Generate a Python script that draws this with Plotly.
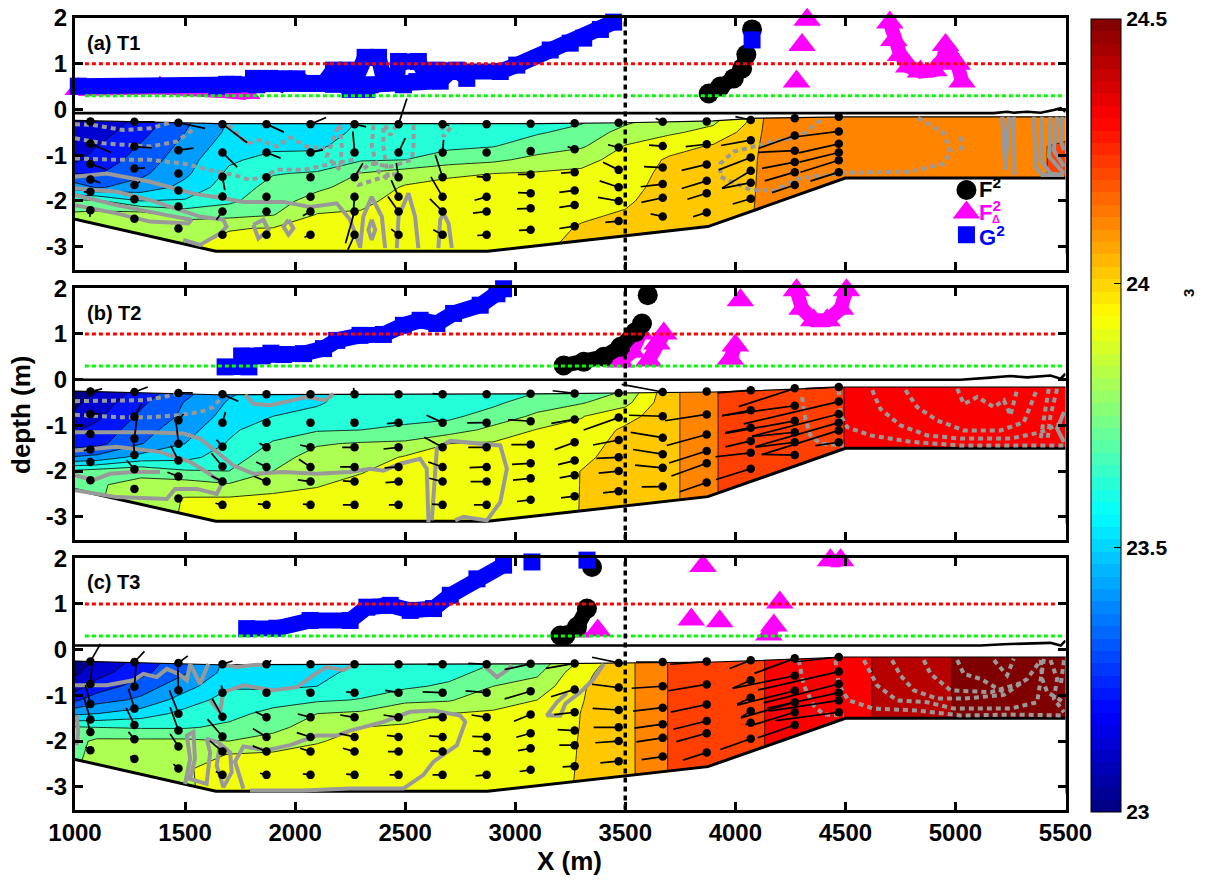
import numpy as np
import plotly.graph_objects as go

# ---------- axis ticks ----------
x_ticks = [1000, 1500, 2000, 2500, 3000, 3500, 4000, 4500, 5000, 5500]
y_ticks = [-3, -2, -1, 0, 1, 2]
y_tick_text = ["-3", "-2", "-1", "0", "1", "2"]
cbar_ticks = [23, 23.5, 24, 24.5]

# ---------- section geometry ----------
bathy_x = [1000, 1640, 2875, 3875, 4500, 5500]
bathy_y = [-2.4, -3.1, -3.1, -2.56, -1.5, -1.5]
surf_x = [1000, 1650, 3100, 3500, 3900, 4100, 4500, 5500]
surf_y_a = [-0.24, -0.31, -0.31, -0.29, -0.25, -0.19, -0.16, -0.16]
surf_y_b = [-0.25, -0.33, -0.31, -0.29, -0.27, -0.24, -0.16, -0.16]
surf_y_c = [-0.25, -0.33, -0.31, -0.29, -0.27, -0.24, -0.16, -0.16]

eta_x_a = [1000, 5174, 5235, 5265, 5326, 5387, 5447, 5478, 5500]
eta_y_a = [-0.08, -0.08, -0.05, -0.07, -0.05, -0.07, -0.01, 0.03, -0.05]
eta_x_b = [1000, 5023, 5144, 5250, 5326, 5432, 5478, 5500]
eta_y_b = [0, 0, 0.04, 0.08, 0.05, 0.09, 0.02, 0.13]
eta_x_c = [1000, 5114, 5220, 5326, 5432, 5478, 5500]
eta_y_c = [0.09, 0.09, 0.12, 0.13, 0.15, 0.09, 0.2]

# ---------- density field (columns at grid_x, rows at grid_y) ----------
grid_y = [-0.15, -0.5, -0.8, -1.1, -1.4, -1.7, -2.0, -2.3, -2.6, -3.15]
grid_x = [1000, 1100, 1300, 1500, 1700, 1900, 2100, 2300, 2500, 2700, 2900, 3100,
          3300, 3500, 3700, 3900, 4050, 4150, 4300, 4500, 4700, 5000, 5500]

sigma_a = [
 [23.08,23.12,23.15,23.18,23.30,23.45,23.72,23.82,23.84,23.86],
 [23.10,23.15,23.20,23.24,23.29,23.39,23.72,23.83,23.85,23.87],
 [23.22,23.27,23.31,23.34,23.38,23.44,23.60,23.85,23.86,23.88],
 [23.37,23.40,23.43,23.46,23.48,23.53,23.61,23.77,23.85,23.905],
 [23.50,23.52,23.55,23.585,23.62,23.65,23.68,23.77,23.895,23.94],
 [23.52,23.54,23.58,23.63,23.695,23.73,23.76,23.795,23.905,23.94],
 [23.52,23.54,23.58,23.64,23.71,23.78,23.84,23.905,23.93,23.95],
 [23.60,23.63,23.66,23.69,23.805,23.84,23.88,23.91,23.93,23.95],
 [23.62,23.64,23.67,23.70,23.85,23.91,23.93,23.94,23.95,23.96],
 [23.62,23.65,23.68,23.75,23.89,23.92,23.93,23.94,23.95,23.96],
 [23.62,23.65,23.695,23.78,23.90,23.92,23.93,23.95,23.96,23.98],
 [23.64,23.69,23.75,23.83,23.91,23.93,23.94,23.96,23.96,23.98],
 [23.67,23.73,23.785,23.875,23.915,23.93,23.955,23.985,24.01,24.05],
 [23.75,23.84,23.905,23.93,23.95,23.965,23.985,24.01,24.03,24.06],
 [23.83,23.885,23.96,24.015,24.03,24.04,24.05,24.06,24.07,24.08],
 [23.86,23.93,24.01,24.03,24.04,24.05,24.06,24.07,24.08,24.09],
 [23.98,24.03,24.05,24.06,24.065,24.07,24.075,24.08,24.08,24.09],
 [24.13,24.13,24.135,24.14,24.14,24.14,24.14,24.14,24.14,24.14],
 [24.15,24.15,24.15,24.15,24.15,24.15,24.15,24.15,24.15,24.15],
 [24.15,24.15,24.15,24.15,24.15,24.15,24.15,24.15,24.15,24.15],
 [24.15,24.15,24.15,24.15,24.15,24.15,24.15,24.15,24.15,24.15],
 [24.15,24.15,24.15,24.15,24.15,24.15,24.15,24.15,24.15,24.15],
 [24.16,24.18,24.21,24.21,24.21,24.21,24.21,24.21,24.21,24.21],
]
sigma_b = [
 [23.05,23.08,23.12,23.19,23.25,23.41,23.72,23.76,23.77,23.78],
 [23.08,23.14,23.18,23.23,23.27,23.43,23.74,23.79,23.79,23.80],
 [23.22,23.28,23.32,23.36,23.395,23.54,23.77,23.83,23.85,23.86],
 [23.35,23.405,23.42,23.46,23.50,23.57,23.71,23.85,23.905,23.91],
 [23.47,23.51,23.54,23.58,23.61,23.65,23.70,23.81,23.91,23.93],
 [23.53,23.56,23.60,23.66,23.71,23.76,23.80,23.865,23.92,23.94],
 [23.58,23.59,23.625,23.69,23.79,23.84,23.865,23.895,23.92,23.94],
 [23.62,23.64,23.665,23.70,23.81,23.85,23.895,23.92,23.93,23.95],
 [23.63,23.65,23.67,23.72,23.82,23.91,23.93,23.94,23.95,23.96],
 [23.64,23.65,23.68,23.75,23.90,23.92,23.93,23.94,23.95,23.96],
 [23.65,23.68,23.74,23.83,23.91,23.93,23.94,23.95,23.96,23.97],
 [23.67,23.75,23.82,23.905,23.92,23.93,23.94,23.95,23.96,23.97],
 [23.72,23.79,23.895,23.925,23.95,23.975,24.002,24.002,24.002,24.002],
 [23.78,23.87,23.96,24.02,24.04,24.05,24.06,24.07,24.08,24.08],
 [24.07,24.07,24.07,24.07,24.07,24.07,24.07,24.07,24.07,24.07],
 [24.195,24.195,24.195,24.195,24.195,24.195,24.195,24.195,24.195,24.195],
 [24.23,24.23,24.23,24.23,24.23,24.23,24.23,24.23,24.23,24.23],
 [24.25,24.25,24.25,24.25,24.25,24.25,24.25,24.25,24.25,24.25],
 [24.27,24.27,24.27,24.27,24.27,24.27,24.27,24.27,24.27,24.27],
 [24.301,24.301,24.301,24.301,24.301,24.301,24.301,24.301,24.301,24.301],
 [24.35,24.35,24.35,24.35,24.35,24.35,24.35,24.35,24.35,24.35],
 [24.37,24.37,24.37,24.37,24.37,24.37,24.37,24.37,24.37,24.37],
 [24.39,24.39,24.39,24.39,24.39,24.39,24.39,24.39,24.39,24.39],
]
sigma_c = [
 [23.05,23.08,23.15,23.28,23.48,23.71,23.77,23.78,23.79,23.79],
 [23.10,23.16,23.24,23.36,23.50,23.70,23.82,23.83,23.84,23.85],
 [23.22,23.27,23.35,23.42,23.55,23.69,23.82,23.83,23.85,23.87],
 [23.36,23.39,23.46,23.55,23.63,23.69,23.82,23.85,23.895,23.89],
 [23.52,23.54,23.59,23.64,23.67,23.72,23.80,23.905,23.92,23.93],
 [23.52,23.55,23.58,23.66,23.73,23.77,23.84,23.915,23.93,23.94],
 [23.54,23.57,23.60,23.685,23.80,23.85,23.895,23.92,23.93,23.94],
 [23.58,23.63,23.66,23.705,23.82,23.90,23.92,23.93,23.94,23.95],
 [23.62,23.65,23.68,23.78,23.87,23.91,23.93,23.94,23.95,23.96],
 [23.62,23.66,23.72,23.79,23.90,23.92,23.93,23.94,23.95,23.96],
 [23.67,23.74,23.80,23.87,23.91,23.93,23.94,23.95,23.96,23.97],
 [23.72,23.78,23.84,23.90,23.92,23.94,23.95,23.96,23.97,23.98],
 [23.89,23.97,23.99,23.995,24.002,24.003,24.005,24.005,24.005,24.005],
 [24.07,24.07,24.07,24.07,24.07,24.07,24.07,24.07,24.07,24.07],
 [24.205,24.205,24.205,24.205,24.205,24.205,24.205,24.205,24.205,24.205],
 [24.25,24.25,24.25,24.25,24.25,24.25,24.25,24.25,24.25,24.25],
 [24.275,24.275,24.275,24.275,24.275,24.275,24.275,24.275,24.275,24.275],
 [24.305,24.305,24.305,24.305,24.305,24.305,24.305,24.305,24.305,24.305],
 [24.33,24.33,24.33,24.33,24.33,24.33,24.33,24.33,24.33,24.33],
 [24.37,24.37,24.37,24.37,24.37,24.37,24.37,24.37,24.37,24.37],
 [24.42,24.42,24.42,24.42,24.42,24.42,24.42,24.42,24.42,24.42],
 [24.505,24.505,24.505,24.505,24.505,24.505,24.505,24.505,24.505,24.505],
 [24.56,24.56,24.56,24.56,24.56,24.56,24.56,24.56,24.56,24.56],
]

# ---------- current meter stations ----------
station_x = [1070, 1270, 1470, 1670, 1870, 2070, 2270, 2470, 2670, 2870, 3070, 3270, 3470, 3670, 3870, 4070, 4270, 4470]
station_depth = [
 [-0.26,-0.75,-1.19,-1.53,-1.80,-2.20],
 [-0.27,-0.81,-1.29,-1.65,-1.96,-2.39],
 [-0.29,-0.89,-1.40,-1.77,-2.12,-2.60],
 [-0.32,-0.94,-1.47,-1.90,-2.23,-2.74],
 [-0.32,-0.94,-1.48,-1.91,-2.23,-2.74],
 [-0.32,-0.94,-1.48,-1.91,-2.23,-2.74],
 [-0.32,-0.94,-1.48,-1.91,-2.23,-2.74],
 [-0.32,-0.94,-1.48,-1.91,-2.23,-2.74],
 [-0.32,-0.94,-1.48,-1.91,-2.23,-2.74],
 [-0.32,-0.94,-1.48,-1.91,-2.23,-2.74],
 [-0.31,-0.91,-1.42,-1.83,-2.16,-2.63],
 [-0.30,-0.87,-1.37,-1.77,-2.09,-2.55],
 [-0.29,-0.83,-1.32,-1.70,-2.00,-2.44],
 [-0.27,-0.80,-1.27,-1.63,-1.93,-2.34],
 [-0.26,-0.76,-1.20,-1.56,-1.83,-2.25],
 [-0.23,-0.67,-1.05,-1.34,-1.60,-1.95],
 [-0.19,-0.57,-0.90,-1.15,-1.37,-1.65],
 [-0.16,-0.48,-0.75,-0.94,-1.11,-1.37],
]
U_SCALE = 1.515    # metres of plot per velocity unit
W_SCALE = 0.00729  # depth metres of plot per velocity unit

u_a = [[0,62,45,30,-20,-2],[60,52,32,17,-12,0],[80,45,10,0,-5,-5],[74,44,7,5,-18,-12],[52,42,0,0,-5,-12],
       [47,37,0,0,-23,-18],[35,-5,25,-5,-27,-20],[25,20,-7,-22,-32,-22],[20,3,-22,-35,-38,-28],[0,0,-30,-36,-41,-28],
       [0,0,-38,-38,-41,-35],[0,-21,-41,-46,-46,-46],[-3,-32,-47,-57,-62,-40],[-21,-41,-56,-66,-64,-36],[0,-63,-75,-75,-58,-41],
       [-46,-89,-96,-86,-86,-54],[0,-108,-110,-98,-90,-68],[0,-128,-120,-118,-115,-85]]
w_a = [[0,-26,-16,-10,0,-20],[0,-4,2,10,0,0],[-17,6,0,0,0,0],[-56,-44,-40,-5,-25,0],[-24,-17,0,0,0,0],
       [20,8,0,0,-13,-7],[-8,63,42,-60,-95,-45],[77,43,42,50,45,17],[-4,38,67,60,38,15],[0,0,2,-10,-5,-2],
       [0,0,0,2,-2,-2],[0,8,-3,-6,-7,-7],[0,8,23,19,11,-4],[11,3,3,-8,-14,8],[0,-7,-18,-23,-18,-13],
       [10,-16,-37,-52,-17,-16],[0,-38,-5,-19,-26,-23],[0,-16,-27,-29,-36,-27]]
u_b = [[35,30,-15,-20,0,0],[40,22,7,-3,-23,-5],[43,15,-7,-23,-33,0],[47,9,-18,-33,-33,-21],[0,0,-21,-31,-36,-26],
       [0,0,-31,-35,-38,-23],[-3,-10,-37,-43,-35,-35],[0,-35,-45,-42,-39,-29],[-30,-48,-55,-43,-40,-32],[-10,-58,-55,-51,-48,-38],
       [0,-68,-58,-56,-53,-41],[-66,-70,-60,-50,-45,-41],[0,-105,-77,-67,-60,-47],[-123,-101,-96,-89,-83,-63],[0,-125,-120,-113,-106,-81],
       [-100,-86,-76,-76,-106,-104],[-168,-218,-208,-128,-118,-100],[-100,-285,-260,-250,-228,-70]]
w_b = [[8,0,0,-3,0,0],[15,39,60,50,27,0],[0,19,65,45,13,0],[-21,32,22,40,17,5],[0,0,12,15,15,3],
       [0,0,7,23,5,2],[19,10,0,0,2,0],[0,-3,-5,-3,-3,0],[2,22,30,15,10,2],[0,-1,0,-2,0,0],
       [0,5,0,-3,-5,-5],[8,-12,-22,-12,-8,-5],[0,-37,-15,-3,-6,-5],[23,3,16,14,8,-1],[0,-19,-33,-36,-38,-28],
       [-8,-16,-15,-18,-12,-32],[-55,-30,-38,-13,-15,2],[-5,-67,-67,-72,-72,-10]]
u_c = [[30,5,-15,-20,-10,-15],[30,5,-18,-25,-18,-13],[28,-2,-27,-25,-25,-15],[30,-3,-31,-45,-38,-20],[14,0,-33,-41,-41,-19],
       [0,-13,-38,-41,-31,-23],[0,-25,-43,-45,-35,-25],[0,-40,-45,-35,-32,-27],[-45,-60,-42,-40,-37,-30],[-55,-63,-45,-43,-41,-33],
       [-78,-78,-50,-43,-38,-33],[-86,-71,-61,-51,-46,-36],[-80,-80,-78,-75,-70,-55],[-80,-93,-89,-85,-79,-63],[-110,-115,-108,-100,-91,-71],
       [-63,-54,-41,-29,-16,-91],[-121,-186,-173,-161,-133,-111],[-135,-242,-225,-215,-210,-190]]
w_c = [[53,66,57,68,35,10],[32,66,60,52,22,7],[21,69,70,70,38,13],[10,22,55,52,32,10],[12,0,17,25,17,5],
       [0,7,10,13,10,3],[0,2,7,10,10,2],[0,7,7,5,0,0],[0,2,0,3,2,0],[3,5,7,2,2,-3],
       [-17,-23,-20,-12,-7,-5],[-15,-22,-7,3,0,-2],[17,10,5,0,-5,-5],[0,-6,-10,-12,-12,-9],[-8,-19,-23,-25,-25,-23],
       [-25,-24,-20,-20,-6,-32],[-45,-38,-43,-47,-40,-38],[-15,-55,-57,-47,-32,-25]]

# ---------- surface front positions ----------
blue_x_a = [1015,1644,1826,2174,2204,2250,2326,2341,2492,2553,2659,2704,2932,3007,3159,3250,3311,3387,3447,None,
            1689,1720,None,1811,1886,1932,1947,2008,2053,2129,2174,2235,2280,2318,2379,2401,2462,2470,2560,2598,2644,2735,2780,None,4076]
blue_y_a = [.51,.51,.54,.55,.57,.44,.44,.54,.54,.61,.62,.83,.83,.97,1.30,1.45,1.56,1.75,1.91,None,
            .55,.55,None,.68,.68,.57,.67,.67,.57,.57,.86,.86,.72,1.14,1.14,.72,.72,1.05,1.05,.72,.86,.86,.68,None,1.52]
black_x_a = [3879,3932,3993,4031,4050,None,4076]
black_y_a = [.35,.50,.68,.90,1.20,None,1.75]
mag_x_a = [1015,1386,1682,1780,None,4278,None,4303,None,4326,None,4702,4720,4750,4788,4841,4902,4947,4955,5008,5030]
mag_y_a = [.45,.48,.40,.36,None,.61,None,1.41,None,1.96,None,1.9,1.52,1.19,.94,.83,.86,1.12,1.41,1.0,.61]

blue_x_b = [1682,1790,1757,1850,1890,1947,2038,2129,2189,2295,2401,2492,2568,2644,2720,2841,2917,2947]
blue_y_b = [.28,.28,.52,.52,.58,.55,.57,.68,.86,.97,.99,1.19,1.30,1.23,1.45,1.63,1.88,1.99]
black_x_b = [3220,3311,3402,3478,3546,3576,None,3602]
black_y_b = [.31,.39,.50,.72,1.04,1.23,None,1.85]
mag_x_b = [3478,3531,3569,None,3606,3644,3675,None,3978,4000,None,4023,None,4278,4303,4356,4417,4478,4505]
mag_y_b = [.40,.61,1.01,None,.42,.79,1.01,None,.46,.75,None,1.74,None,1.96,1.55,1.30,1.30,1.55,1.96]

blue_x_c = [1780,1917,2068,2250,2326,2432,2523,2629,2705,2826,2947,None,3076,None,3326]
blue_y_c = [.46,.47,.64,.64,.93,.97,.86,.90,1.19,1.55,1.85,None,1.92,None,1.96]
black_x_c = [3205,3228,3281,3326,None,3349]
black_y_c = [.31,.31,.50,.90,None,1.81]
mag_x_c = [3281,None,3375,None,3800,None,3853,None,3929,None,4152,4175,None,4202,None,4432,4478]
mag_y_c = [.40,None,.42,None,.66,None,1.83,None,.62,None,.33,.53,None,1.03,None,1.96,1.96]

# ---------- grey velocity contours (None separates lines) ----------
grey_solid_a = [
 ([1000,1144,1341,1492,1538,1674,1765,1947,2068,2189,2250,2295],[-1.47,-1.40,-1.58,-1.77,-1.84,-1.94,-2.02,-2.02,-2.13,-2.05,-2.41,-3.0]),
 ([1000,1189,1341,1462,1568,1674,1689,1659,1568,1492],[-1.72,-1.80,-1.98,-2.16,-2.34,-2.41,-2.56,-2.71,-2.96,-2.85]),
 ([1000,1189,1417,1530,1515,1341,1189,1000],[-1.87,-2.09,-2.31,-2.41,-2.49,-2.45,-2.27,-2.09]),
 ([1810,1856,1879,1833,1810],[-2.52,-2.41,-2.63,-2.82,-2.52]),
 ([1970,1992,1970,1947,1970],[-2.41,-2.60,-2.74,-2.56,-2.41]),
 ([2295,2310,2348,2394,2409],[-3.03,-2.34,-1.91,-2.34,-3.03]),
 ([2348,2364,2348,2333,2348],[-2.41,-2.63,-2.85,-2.63,-2.41]),
 ([2462,2470,2515,2545,2560],[-3.03,-2.34,-1.83,-2.34,-3.03]),
 ([2651,2659,2674,2697,2712],[-3.03,-2.41,-2.27,-2.49,-3.03]),
 ([5212,5227,5243],[-0.16,-1.32,-0.16]),
 ([5265,5268],[-0.16,-1.43]),
 ([5356,5364,5394,5493],[-0.16,-1.25,-1.43,-1.43]),
 ([5394,5387,5432,5493],[-0.16,-1.10,-1.40,-1.43]),
 ([5432,5425,5493],[-0.16,-1.03,-1.40]),
 ([5462,5447,5493],[-0.16,-0.89,-1.25]),
 ([5485,5478,5493],[-0.16,-0.67,-0.89]),
]
grey_dot_a = [
 ([1000,1083,1220,1341,1432],[-0.32,-0.34,-0.45,-0.41,-0.29]),
 ([1000,1129,1341,1462,1545],[-0.63,-0.74,-0.81,-0.70,-0.41]),
 ([1000,1189,1341,1492,1644,1720,1795,1856,1917,2038,2174,2265],[-1.07,-1.10,-1.10,-1.18,-1.36,-1.43,-1.54,-1.47,-1.32,-1.32,-1.18,-1.10]),
 ([1697,1780,1841,1917,1977,2053,2136],[-0.34,-0.74,-0.67,-0.81,-0.61,-0.81,-0.85]),
 ([2204,2212,2204,2144,2197],[-0.34,-0.81,-1.32,-1.03,-0.34]),
 ([2356,2348,2379,2424,2401,2401],[-0.34,-0.81,-1.36,-1.54,-0.81,-0.34]),
 ([2409,2432,2455],[-0.34,-0.56,-0.38]),
 ([2538,2538,2530,2432,2341,2265,2288,2432,2477],[-0.34,-0.81,-1.10,-1.25,-1.18,-1.47,-1.65,-1.43,-1.40]),
 ([2667,2674,2712],[-0.34,-0.59,-0.36]),
 ([4387,4296,4175,3993,3932,3932,4069,4175,4296,4508,4796,4947,4978,4947,4826],[-0.23,-0.59,-0.70,-0.92,-1.18,-1.47,-1.76,-1.77,-1.50,-1.38,-1.36,-1.18,-0.92,-0.52,-0.17]),
 ([5023,5030],[-0.59,-0.96]),
]
grey_solid_b = [
 ([1773,1811,1886,1977,2053,2136,2174],[-0.33,-0.53,-0.56,-0.45,-0.38,-0.45,-0.31]),
 ([1000,1159,1341,1492,1568,1644,1720,1811,1947,2098,2250,2341,2401,2477,2568,2598,2606],[-1.15,-1.15,-1.15,-1.18,-1.29,-1.58,-1.88,-2.06,-2.02,-2.06,-2.02,-1.95,-1.99,-1.84,-1.73,-1.95,-3.12]),
 ([1000,1189,1386,1523,1598,1674],[-1.55,-1.47,-1.58,-1.80,-2.02,-2.28]),
 ([1000,1083,1159,1265,1386],[-2.09,-2.2,-2.06,-2.02,-2.02]),
 ([1000,1189,1417,1454,1553,1644,1667],[-2.42,-2.57,-2.61,-2.39,-2.39,-2.50,-2.28]),
 ([2621,2636,2644,2704,2932,2962,2932,2871,2765,2727],[-3.08,-2.09,-1.51,-1.34,-1.44,-1.95,-2.68,-3.08,-3.0,-3.08]),
 ([5493,5462,5493],[-0.71,-1.07,-1.36]),
]
grey_dot_b = [
 ([1000,1159,1311,1402,1462],[-0.47,-0.47,-0.45,-0.38,-0.31]),
 ([1000,1189,1341,1462,1568,1629,1674],[-0.77,-0.82,-0.82,-0.78,-0.71,-0.60,-0.34]),
 ([4303,4318,4341,4387,4493],[-0.38,-0.85,-1.22,-1.40,-1.44]),
 ([4470,4478,4508,4614,4796,5023,5250,5493],[-0.23,-0.78,-1.04,-1.22,-1.36,-1.44,-1.44,-1.44]),
 ([4622,4659,4750,4872,5023,5250,5387,5493],[-0.23,-0.64,-1.0,-1.22,-1.29,-1.29,-1.15,-0.93]),
 ([4773,4826,4917,5038,5205,5311,5371],[-0.23,-0.6,-0.89,-1.11,-1.11,-0.93,-0.2]),
 ([5008,5038,5099,5175,5220,5250,5281],[-0.2,-0.53,-0.38,-0.6,-0.45,-0.78,-0.2]),
 ([5424,5402,5387],[-0.2,-0.78,-1.29]),
 ([5462,5432,5417],[-0.2,-0.78,-1.36]),
]
grey_solid_c = [
 ([1000,1144,1265,1311,1371,1417,1470,1508,1523,1568,1606],[-0.78,-0.78,-0.67,-0.53,-0.6,-0.42,-0.53,-0.67,-0.31,-0.75,-0.31]),
 ([1674,1735,1826,1886],[-0.33,-0.38,-0.33,-0.34]),
 ([1614,1659,1674,1765,1901,2008,2083,2144,2220,2265],[-1.11,-1.36,-0.93,-0.78,-0.89,-0.82,-0.56,-0.38,-0.45,-0.33]),
 ([1008,1015,1008],[-1.44,-1.8,-2.09]),
 ([1500,1523,1508,1538,1545,1523,1598,1614,1598,1652,1705,1712,1674,1644,1659],[-2.94,-2.39,-1.88,-1.80,-2.39,-2.83,-2.94,-2.25,-1.95,-2.03,-2.25,-2.68,-3.01,-2.54,-2.03]),
 ([1765,1727,1765,1871,1977,2098,2189,2250,2401,2523,2629,2750,2773,2735,2629,2583,2492,2250,2038,1795],[-3.04,-2.45,-2.12,-2.2,-2.09,-1.88,-1.88,-1.77,-1.58,-1.36,-1.33,-1.44,-1.58,-2.09,-2.45,-2.74,-3.04,-3.04,-3.08,-3.08]),
 ([2856,2917,2962,2985],[-0.34,-0.6,-0.45,-0.33]),
 ([3402,3357,3296,3228,3205,3144,3189,3235],[-0.31,-0.64,-0.93,-1.18,-1.44,-1.44,-1.15,-0.95]),
]
grey_dot_c = [
 ([4288,4311,4356,4402,4493],[-0.23,-0.78,-1.22,-1.42,-1.44]),
 ([4455,4470,4515,4629,4826,5023,5250,5493],[-0.23,-0.78,-1.11,-1.29,-1.33,-1.44,-1.42,-1.44]),
 ([4584,4644,4735,4872,4993,5250,5371,5402],[-0.23,-0.78,-1.11,-1.15,-1.29,-1.29,-1.15,-0.2]),
 ([4712,4750,4811,4917,5038,5220,5326,5387],[-0.23,-0.56,-0.89,-1.07,-1.07,-0.99,-0.64,-0.23]),
 ([4856,4887,4978,5160,5311],[-0.23,-0.53,-0.89,-0.93,-0.71]),
 ([5008,5038,5114,5220],[-0.23,-0.53,-0.64,-0.93]),
 ([5175,5235,5265],[-0.23,-0.56,-0.2]),
 ([5387,5394,5417,5493],[-0.23,-0.64,-0.93,-1.15]),
 ([5432,5462,5447,5493],[-0.23,-0.64,-1.07,-1.37]),
 ([5493,5478],[-0.23,-0.78]),
]

panel_labels = ["(a) T1", "(b) T2", "(c) T3"]
ref_red = 1.0
ref_green = 0.3
ref_x = 3500
contour_start, contour_end, contour_step = 23.0, 24.6, 0.1


# ---------- colour scale (MATLAB jet, 64 steps) ----------
def jet(f):
    f = min(max(f, 0.0), 1.0)
    r = np.clip(min(4 * f - 1.5, -4 * f + 4.5), 0, 1)
    g = np.clip(min(4 * f - 0.5, -4 * f + 3.5), 0, 1)
    b = np.clip(min(4 * f + 0.5, -4 * f + 2.5), 0, 1)
    return f"rgb({int(r*255)},{int(g*255)},{int(b*255)})"


N = 64
stepped = []
for i in range(N):
    col = jet((i + 0.5) / N)
    stepped += [[i / N, col], [(i + 1) / N, col]]

# filled contours take their colour from each band's lower level
n_bands = 17
band_scale = []
for i in range(n_bands):
    lo = contour_start + (i - 1) * contour_step
    col = jet((lo - 23.0) / 1.5 + 0.012)
    band_scale += [[i / n_bands, col], [(i + 1) / n_bands, col]]
# the band between 23.0+k*0.1 and the next sits at index k+1 of the scale

W, H = 1207, 880
XL, XR = 75, 1065.5
panels_px = [(18, 269.6), (288.3, 539.6), (558.3, 809.6)]
GREY = "#999999"
FONT = "Liberation Sans"

fig = go.Figure()
panels = [
    (sigma_a, surf_y_a, eta_x_a, eta_y_a, u_a, w_a, blue_x_a, blue_y_a, black_x_a, black_y_a, mag_x_a, mag_y_a, grey_solid_a, grey_dot_a),
    (sigma_b, surf_y_b, eta_x_b, eta_y_b, u_b, w_b, blue_x_b, blue_y_b, black_x_b, black_y_b, mag_x_b, mag_y_b, grey_solid_b, grey_dot_b),
    (sigma_c, surf_y_c, eta_x_c, eta_y_c, u_c, w_c, blue_x_c, blue_y_c, black_x_c, black_y_c, mag_x_c, mag_y_c, grey_solid_c, grey_dot_c),
]


def join(lines):
    xs, ys = [], []
    for lx, ly in lines:
        xs += list(lx) + [None]
        ys += list(ly) + [None]
    return xs, ys


for k, p in enumerate(panels):
    sigma, sy, ex, ey, u, w, bx, by, kx, ky, mx, my, gs, gd = p
    xa = "x" if k == 0 else f"x{k+1}"
    ya = "y" if k == 0 else f"y{k+1}"
    ax = dict(xaxis=xa, yaxis=ya, showlegend=False, hoverinfo="skip")

    fig.add_trace(go.Contour(
        x=grid_x, y=grid_y, z=np.array(sigma).T.tolist(), xaxis=xa, yaxis=ya,
        colorscale=band_scale, showscale=False,
        contours=dict(start=contour_start, end=contour_end, size=contour_step, coloring="fill", showlines=True),
        line=dict(color="black", width=0.8, smoothing=0), hoverinfo="skip"))

    # white masks outside the water column
    fig.add_trace(go.Scatter(x=surf_x + [5500, 1000], y=sy + [-0.12, -0.12], fill="toself", mode="none",
                             fillcolor="white", **ax))
    fig.add_trace(go.Scatter(x=bathy_x + [5500, 1000], y=bathy_y + [-3.5, -3.5], fill="toself", mode="none",
                             fillcolor="white", **ax))
    fig.add_trace(go.Scatter(x=surf_x, y=sy, mode="lines", line=dict(color="black", width=1.2), **ax))
    fig.add_trace(go.Scatter(x=bathy_x, y=bathy_y, mode="lines", line=dict(color="black", width=3), **ax))

    # sea level
    fig.add_trace(go.Scatter(x=ex, y=ey, mode="lines", line=dict(color="black", width=2.6), **ax))

    # grey contours
    gx, gy = join(gs)
    fig.add_trace(go.Scatter(x=gx, y=gy, mode="lines", line=dict(color=GREY, width=4), **ax))
    gx, gy = join(gd)
    fig.add_trace(go.Scatter(x=gx, y=gy, mode="lines", line=dict(color=GREY, width=4, dash="5px,4px"), **ax))

    # velocity sticks
    sxs, sys, dxs, dys = [], [], [], []
    for c, xc in enumerate(station_x):
        for r, d in enumerate(station_depth[c]):
            dxs.append(xc)
            dys.append(d)
            sxs += [xc, xc + u[c][r] * U_SCALE, None]
            sys += [d, d + w[c][r] * W_SCALE, None]
    fig.add_trace(go.Scatter(x=sxs, y=sys, mode="lines", line=dict(color="black", width=1.7), **ax))
    fig.add_trace(go.Scatter(x=dxs, y=dys, mode="markers", marker=dict(color="black", size=8.5), **ax))

    # fronts
    fig.add_trace(go.Scatter(x=mx, y=my, mode="lines+markers", cliponaxis=False,
                             line=dict(color="#ff00ff", width=14),
                             marker=dict(symbol="triangle-up", color="#ff00ff", size=24), **ax))
    fig.add_trace(go.Scatter(x=kx, y=ky, mode="lines+markers", cliponaxis=False,
                             line=dict(color="black", width=15),
                             marker=dict(symbol="circle", color="black", size=20), **ax))
    fig.add_trace(go.Scatter(x=bx, y=by, mode="lines+markers", cliponaxis=False,
                             line=dict(color="#0000ff", width=16),
                             marker=dict(symbol="square", color="#0000ff", size=17), **ax))

    # reference lines
    fig.add_trace(go.Scatter(x=[1045, 5462], y=[ref_red, ref_red], mode="lines",
                             line=dict(color="#ff0000", width=3, dash="4px,3px"), **ax))
    fig.add_trace(go.Scatter(x=[1045, 5500], y=[ref_green, ref_green], mode="lines",
                             line=dict(color="#00ff00", width=3, dash="4px,3px"), **ax))
    fig.add_trace(go.Scatter(x=[ref_x, ref_x], y=[-3.5, 2], mode="lines",
                             line=dict(color="black", width=3.5, dash="5px,4px"), **ax))

    if k == 0:
        fig.add_trace(go.Scatter(x=[5050], y=[-1.76], mode="markers", marker=dict(symbol="circle", color="black", size=20), **ax))
        fig.add_trace(go.Scatter(x=[5050], y=[-2.25], mode="markers", marker=dict(symbol="triangle-up", color="#ff00ff", size=24), **ax))
        fig.add_trace(go.Scatter(x=[5050], y=[-2.74], mode="markers", marker=dict(symbol="square", color="#0000ff", size=17), **ax))

# colour bar (hidden marker trace supplies the scale)
fig.add_trace(go.Scatter(
    x=[None, None], y=[None, None], mode="markers", showlegend=False, hoverinfo="skip",
    marker=dict(color=[23, 24.5], cmin=23, cmax=24.5, colorscale=stepped, showscale=True, size=1,
                colorbar=dict(x=1091 / W, xanchor="left", xpad=0, ypad=0,
                              y=1 - 19 / H, yanchor="top", len=793, lenmode="pixels",
                              thickness=30, thicknessmode="pixels",
                              tickvals=cbar_ticks, ticktext=["23", "23.5", "24", "24.5"],
                              ticks="inside", ticklen=7, tickwidth=1, tickcolor="black",
                              outlinecolor="black", outlinewidth=1,
                              tickfont=dict(family=FONT, size=21, color="black", weight="bold")))))

axis_common = dict(showline=True, mirror="ticks", linecolor="black", linewidth=3,
                   ticks="inside", ticklen=8, tickwidth=3, tickcolor="black", showgrid=False, zeroline=False,
                   tickfont=dict(family=FONT, size=24, color="black", weight="bold"))
layout = dict(width=W, height=H, margin=dict(l=0, r=0, t=0, b=0, autoexpand=False),
              paper_bgcolor="white", plot_bgcolor="white", showlegend=False)
for k, (t, b) in enumerate(panels_px):
    sx = "" if k == 0 else str(k + 1)
    layout[f"xaxis{sx}"] = dict(domain=[XL / W, XR / W], range=[1000, 5500], tickvals=x_ticks,
                                showticklabels=(k == 2), anchor=f"y{sx}", **axis_common)
    layout[f"yaxis{sx}"] = dict(domain=[1 - b / H, 1 - t / H], range=[-3.5, 2], tickvals=y_ticks,
                                ticktext=y_tick_text, anchor=f"x{sx}", **axis_common)


def note(text, px, py, size, color="black", **kw):
    return dict(text=text, x=px / W, y=1 - py / H, xref="paper", yref="paper", showarrow=False,
                xanchor=kw.pop("xanchor", "left"), yanchor="middle",
                font=dict(family=FONT, size=size, color=color, weight="bold"), **kw)


annotations = [
    note(panel_labels[0], 85, 43, 20),
    note(panel_labels[1], 85, 312.7, 20),
    note(panel_labels[2], 85, 581.7, 20),
    note("X (m)", 569, 861, 26, xanchor="center"),
    note("depth (m)", 21, 415, 26, xanchor="center", textangle=-90),
    note("F<sup>2</sup>", 977, 188, 22),
    note("F<sup>2</sup>", 977, 211, 22, color="#ff00ff"),
    note("G<sup>2</sup>", 977, 236, 22, color="#0000ff"),
    note("Δ", 990, 219, 11, color="#ff00ff"),
    note("3", 1188, 293, 15, xanchor="center", textangle=-90),
]
layout["annotations"] = annotations
fig.update_layout(**layout)

fig.write_html("out.html", post_script="document.body.style.margin='0';", config={"displayModeBar": False})
